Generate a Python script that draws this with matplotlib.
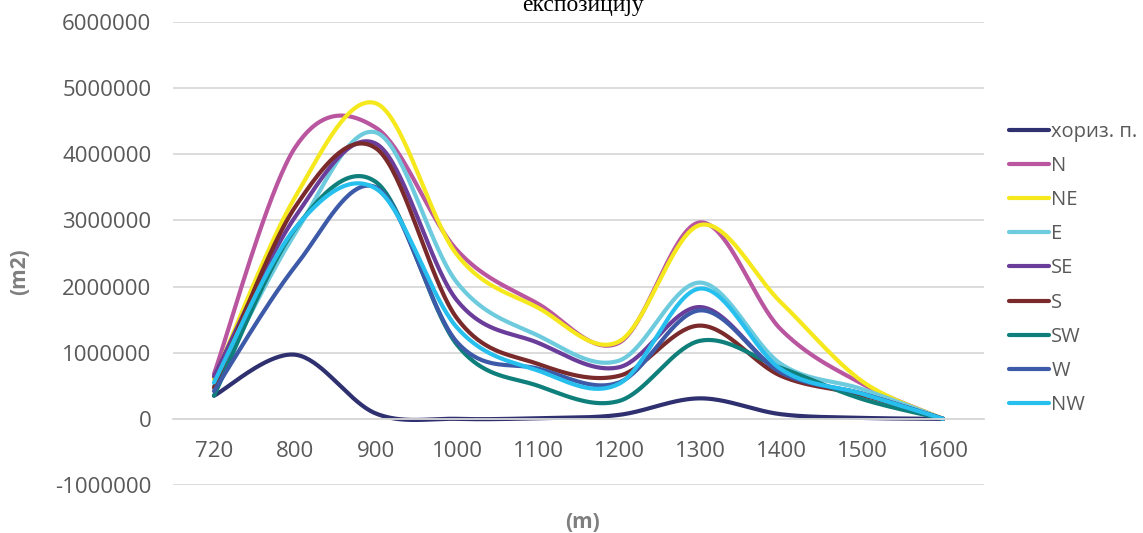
import numpy as np
import matplotlib
matplotlib.use("Agg")
import matplotlib.pyplot as plt

categories = [720, 800, 900, 1000, 1100, 1200, 1300, 1400, 1500, 1600]
series_names = ["хориз. п.", "N", "NE", "E", "SE", "S", "SW", "W", "NW"]

horiz = [350000, 970000, 80000, 0, 10000, 60000, 310000, 70000, 15000, 0]
north = [680000, 4100000, 4400000, 2550000, 1740000, 1150000, 2970000, 1350000, 530000, 0]
north_east = [600000, 3350000, 4770000, 2480000, 1680000, 1170000, 2930000, 1760000, 570000, 0]
east = [500000, 2800000, 4330000, 2060000, 1260000, 880000, 2060000, 830000, 450000, 0]
south_east = [640000, 3050000, 4160000, 1790000, 1150000, 780000, 1690000, 700000, 380000, 0]
south = [470000, 3200000, 4090000, 1520000, 830000, 650000, 1410000, 650000, 360000, 0]
south_west = [350000, 2870000, 3580000, 1120000, 500000, 270000, 1180000, 770000, 300000, 0]
west = [420000, 2300000, 3500000, 1160000, 760000, 550000, 1640000, 700000, 380000, 0]
north_west = [550000, 2880000, 3480000, 1380000, 730000, 530000, 1970000, 750000, 380000, 0]

series_values = [horiz, north, north_east, east, south_east, south, south_west, west, north_west]
colors = ["#2E3070", "#B9569F", "#F5E81C", "#6DCBDD", "#6A3D9A",
          "#7A2A2A", "#0E7F7A", "#3D5AA8", "#27C0EE"]

y_ticks = [-1000000, 0, 1000000, 2000000, 3000000, 4000000, 5000000, 6000000]


def smooth(xs, ys, n=40):
    xs = np.asarray(xs, float)
    ys = np.asarray(ys, float)
    px, py = [], []
    m = len(xs)
    for i in range(m - 1):
        x0, y0 = xs[i], ys[i]
        x3, y3 = xs[i + 1], ys[i + 1]
        xp, yp = (xs[i - 1], ys[i - 1]) if i > 0 else (x0, y0)
        xn, yn = (xs[i + 2], ys[i + 2]) if i + 2 < m else (x3, y3)
        x1 = x0 + (x3 - xp) / 6.0
        y1 = y0 + (y3 - yp) / 6.0
        x2 = x3 - (xn - x0) / 6.0
        y2 = y3 - (yn - y0) / 6.0
        t = np.linspace(0, 1, n)
        a = (1 - t) ** 3
        b = 3 * (1 - t) ** 2 * t
        c = 3 * (1 - t) * t ** 2
        d = t ** 3
        px.append(a * x0 + b * x1 + c * x2 + d * x3)
        py.append(a * y0 + b * y1 + c * y2 + d * y3)
    return np.concatenate(px), np.concatenate(py)


plt.rcParams['font.family'] = ['Open Sans', 'DejaVu Sans']

fig = plt.figure(figsize=(11.43, 5.33), dpi=100)
ax = fig.add_axes([173.5 / 1143, 1 - 485 / 533, (983.5 - 173.5) / 1143, (485 - 22) / 533])

xpos = np.arange(len(categories))
for name, vals, col in zip(series_names, series_values, colors):
    sx, sy = smooth(xpos, vals)
    ax.plot(sx, sy, color=col, lw=3.0, solid_capstyle='round', label=name)

ax.set_xlim(-0.5, len(categories) - 0.5)
ax.set_ylim(-1000000, 6000000)
ax.set_yticks(y_ticks)
ax.set_yticklabels([str(v) for v in y_ticks])
ax.set_xticks(xpos)
ax.set_xticklabels([str(c) for c in categories])
ax.grid(axis='y', color='#D9D9D9', lw=1.3)
ax.set_axisbelow(True)
for s in ['top', 'right', 'left']:
    ax.spines[s].set_visible(False)
ax.spines['bottom'].set_position(('data', 0))
ax.spines['bottom'].set_color('#D9D9D9')
ax.spines['bottom'].set_linewidth(1.3)
ax.tick_params(axis='both', length=0, labelsize=16, colors='#595959')
ax.tick_params(axis='x', pad=16)
ax.tick_params(axis='y', pad=16)

fig.text(20 / 1143, 1 - 272 / 533, "(m2)", rotation=90, ha='center', va='center',
         fontsize=15, fontweight='bold', color='#7F7F7F')
fig.text(583 / 1143, 1 - 522 / 533, "(m)", ha='center', va='center',
         fontsize=15, fontweight='bold', color='#7F7F7F')
fig.text(583 / 1143, 1 - 11 / 533, "експозицију", ha='center', va='baseline',
         fontsize=17, color='black', family=['Liberation Serif', 'DejaVu Serif'])

leg = ax.legend(loc='upper left', bbox_to_anchor=(999 / 1143, 1 - 112 / 533),
                bbox_transform=fig.transFigure, frameon=False, fontsize=14.5,
                handlelength=2.0, handletextpad=0.1, labelspacing=0.7, borderpad=0)
for t in leg.get_texts():
    t.set_color('#595959')

fig.savefig("out.png", dpi=100)
